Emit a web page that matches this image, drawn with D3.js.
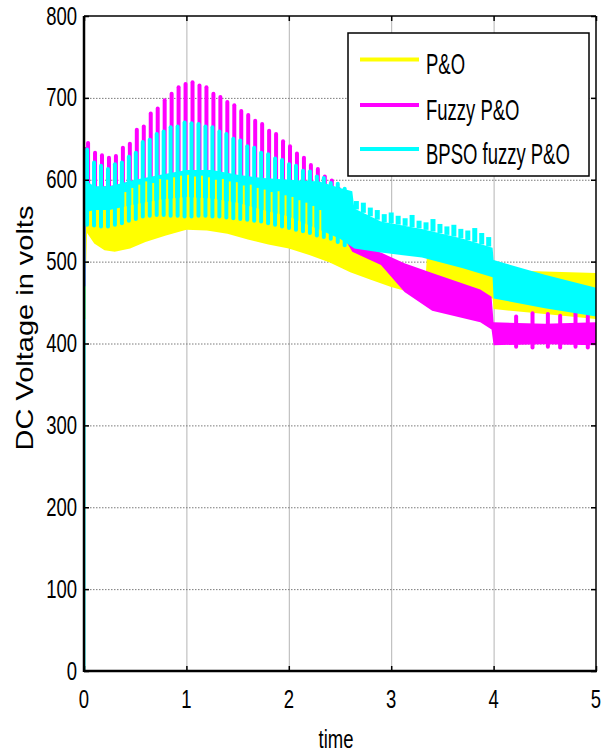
<!DOCTYPE html>
<html>
<head>
<meta charset="utf-8">
<script src="https://cdn.jsdelivr.net/npm/d3@7"></script>
<style>
  html, body { margin: 0; padding: 0; background: #fff; }
  svg { display: block; font-family: "Liberation Sans", Arial, sans-serif; }
</style>
</head>
<body>
<svg id="chart" width="610" height="753"></svg>
<script>
// ---------------- DATA ----------------
const xTicks = [0, 1, 2, 3, 4, 5];
const yTicks = [0, 100, 200, 300, 400, 500, 600, 700, 800];
const seriesNames = ["P&O", "Fuzzy P&O", "BPSO fuzzy P&O"];
const seriesColors = ["#ffff00", "#ff00ff", "#00ffff"];

// P&O (yellow): dense band, lower / upper envelope
const yellowT  = [0.005, 0.03, 0.1, 0.2, 0.3, 0.45, 0.6, 0.8, 1.0, 1.2, 1.4, 1.6, 1.8, 2.0, 2.2, 2.4, 2.6, 2.8, 3.0, 3.2, 3.34, 3.35, 3.6, 3.8, 3.99, 4.0, 4.5, 5.0];
const yellowLo = [430, 535, 522, 514, 512, 516, 524, 532, 539, 538, 534, 527, 521, 516, 508, 499, 487, 478, 469, 462, 458, 462, 460, 458, 455, 442, 436, 430];
const yellowHi = [560, 565, 566, 566, 568, 572, 577, 582, 585, 583, 578, 572, 566, 560, 548, 540, 525, 512, 500, 492, 488, 510, 500, 494, 490, 490, 488, 486];
// yellow oscillation peaks (between the cyan peaks)
const yellowSpikeT = [0.404, 0.472, 0.540, 0.608, 0.676, 0.744, 0.812, 0.880, 0.948, 1.016,
                      1.084, 1.152, 1.220, 1.288, 1.356, 1.424, 1.492, 1.560, 1.628, 1.696,
                      1.764, 1.832, 1.900, 1.968, 2.036, 2.104, 2.172, 2.240, 2.308];
const yellowSpikeTop = [585, 590, 594, 598, 596, 601, 600, 603, 605, 606, 604, 605, 603, 600, 601, 598, 597, 593, 594, 590,
                        588, 585, 586, 581, 579, 575, 572, 568, 563];

// Fuzzy P&O (magenta): dense band
const magentaT  = [0.005, 0.5, 1.0, 1.5, 2.0, 2.3, 2.55, 2.62, 2.9, 3.13, 3.4, 3.87, 3.98, 4.0, 4.5, 5.0];
const magentaLo = [563, 573, 582, 575, 558, 542, 527, 512, 496, 463, 440, 426, 417, 398, 399, 398];
const magentaHi = [590, 595, 605, 600, 595, 590, 580, 522, 511, 498, 486, 466, 457, 426, 424, 426];

// BPSO fuzzy P&O (cyan): dense band
const cyanT  = [0.005, 0.1, 0.25, 0.5, 0.75, 1.0, 1.25, 1.5, 1.75, 2.0, 2.3, 2.5, 2.62, 2.64, 2.9, 3.3, 3.7, 3.99, 4.0, 4.5, 5.0];
const cyanLo = [560, 563, 563, 570, 576, 579, 577, 572, 563, 555, 539, 528, 518, 516, 511, 505, 492, 481, 455, 443, 433];
const cyanHi = [600, 592, 592, 600, 606, 612, 612, 606, 602, 600, 598, 590, 586, 565, 549, 540, 528, 517, 502, 484, 468];

// periodic oscillation peaks (times of the peaks, shared by cyan and magenta)
const spikeT = [0.030, 0.098, 0.166, 0.234, 0.302, 0.370, 0.438, 0.506, 0.574, 0.642,
                0.710, 0.778, 0.846, 0.914, 0.982, 1.050, 1.118, 1.186, 1.254, 1.322,
                1.390, 1.458, 1.526, 1.594, 1.662, 1.730, 1.798, 1.866, 1.934, 2.002,
                2.070, 2.138, 2.206, 2.274, 2.342, 2.410, 2.478, 2.546];
const cyanSpikeTop = [637, 621, 617, 613, 619, 621, 628, 633, 646, 649, 656, 659, 664, 665, 670, 669, 668, 665, 664, 659,
                      656, 650, 648, 641, 639, 633, 631, 626, 624, 619, 617, 611, 610, 604, 602, 596, 595, 589];
const cyanSpikeLow = [545, 544, 543, 543, 545, 547, 550, 552, 555, 556, 557, 557, 556, 556, 555, 555, 556, 556, 555, 555,
                      554, 553, 552, 551, 550, 549, 547, 545, 543, 541, 539, 537, 535, 532, 530, 528, 524, 520];
const magentaSpikeTop = [645, 633, 630, 627, 629, 639, 644, 661, 665, 681, 687, 697, 705, 713, 717, 719, 715, 713, 705, 701,
                         695, 691, 684, 679, 672, 668, 660, 656, 647, 641, 632, 627, 618, 613, 604, 599, 589, 582];

// small ripple on top of the cyan band, 2.66 s - 4 s
const rippleT   = [2.660, 2.728, 2.796, 2.864, 2.932, 3.000, 3.068, 3.136, 3.204, 3.272,
                   3.340, 3.408, 3.476, 3.544, 3.612, 3.680, 3.748, 3.816, 3.884, 3.952];
const rippleTop = [574, 572, 566, 563, 558, 560, 556, 553, 557, 550, 548, 552, 546, 543, 545, 540, 538, 541, 535, 530];

// magenta bumps after 4 s
const bumpT   = [4.22, 4.38, 4.53, 4.65, 4.80, 4.92];
const bumpTop = [433, 437, 436, 434, 437, 434];
const bumpLow = [396, 395, 396, 395, 396, 395];

// start-up transients [t, v]
const yellowStart  = [[0.004, 430], [0.008, 560]];
const magentaStart = [[0.006, 470], [0.010, 640]];
const cyanStart    = [[0.002, 0], [0.004, 632], [0.010, 600]];

// ---------------- CHART ----------------
const svg = d3.select("#chart");
const L = 84, R = 596, T = 16, B = 671;
const x = d3.scaleLinear().domain([0, 5]).range([L, R]);
const y = d3.scaleLinear().domain([0, 800]).range([B, T]);
const FONT = 18.5;

svg.append("defs").append("clipPath").attr("id", "clip")
  .append("rect").attr("x", L).attr("y", T).attr("width", R - L).attr("height", B - T);

// grid
svg.append("g").attr("transform", `translate(0,${B})`)
  .call(d3.axisBottom(x).tickValues(xTicks.slice(1, -1)).tickSize(-(B - T)).tickFormat(""))
  .call(g => g.select(".domain").remove())
  .call(g => g.selectAll("line").attr("stroke", "#b4b4b4").attr("stroke-width", 1));
svg.append("g").attr("transform", `translate(${L},0)`)
  .call(d3.axisLeft(y).tickValues(yTicks.slice(1, -1)).tickSize(-(R - L)).tickFormat(""))
  .call(g => g.select(".domain").remove())
  .call(g => g.selectAll("line").attr("stroke", "#7a7a7a").attr("stroke-width", 1).attr("stroke-dasharray", "1.5,1.5"));

const plot = svg.append("g").attr("clip-path", "url(#clip)");
const rows = (ts, lo, hi) => ts.map((t, i) => ({ t, lo: lo[i], hi: hi[i] }));
const area = d3.area().x(d => x(d.t)).y0(d => y(d.lo)).y1(d => y(d.hi));
const line = d3.line().x(d => x(d[0])).y(d => y(d[1]));

// yellow
plot.append("path").datum(rows(yellowT, yellowLo, yellowHi)).attr("d", area).attr("fill", seriesColors[0]);
plot.append("path").datum(yellowStart).attr("d", line).attr("fill", "none").attr("stroke", seriesColors[0]).attr("stroke-width", 2.5);
const yellowHiAt = d3.scaleLinear().domain(yellowT).range(yellowHi);

// magenta
plot.append("path").datum(rows(magentaT, magentaLo, magentaHi)).attr("d", area).attr("fill", seriesColors[1]);
const magentaHiAt = d3.scaleLinear().domain(magentaT).range(magentaHi);
plot.append("g").selectAll("line").data(spikeT).join("line")
  .attr("x1", t => x(t) + 1).attr("x2", t => x(t) + 1)
  .attr("y1", t => y(magentaHiAt(t))).attr("y2", (t, i) => y(magentaSpikeTop[i]))
  .attr("stroke", seriesColors[1]).attr("stroke-width", 4).attr("stroke-linecap", "round");
plot.append("g").selectAll("line").data(bumpT).join("line")
  .attr("x1", t => x(t)).attr("x2", t => x(t))
  .attr("y1", (t, i) => y(bumpLow[i])).attr("y2", (t, i) => y(bumpTop[i]))
  .attr("stroke", seriesColors[1]).attr("stroke-width", 4).attr("stroke-linecap", "round");
plot.append("path").datum(magentaStart).attr("d", line).attr("fill", "none").attr("stroke", seriesColors[1]).attr("stroke-width", 2.5);

// cyan
plot.append("path").datum(rows(cyanT, cyanLo, cyanHi)).attr("d", area).attr("fill", seriesColors[2]);
// yellow peaks showing through the cyan band
plot.append("g").selectAll("line").data(yellowSpikeT).join("line")
  .attr("x1", t => x(t)).attr("x2", t => x(t))
  .attr("y1", t => y(yellowHiAt(t) - 30)).attr("y2", (t, i) => y(yellowSpikeTop[i]))
  .attr("stroke", seriesColors[0]).attr("stroke-width", 2);
plot.append("g").selectAll("line").data(spikeT).join("line")
  .attr("x1", t => x(t)).attr("x2", t => x(t))
  .attr("y1", (t, i) => y(cyanSpikeLow[i])).attr("y2", (t, i) => y(cyanSpikeTop[i]))
  .attr("stroke", seriesColors[2]).attr("stroke-width", 4).attr("stroke-linecap", "round");
const cyanHiAt = d3.scaleLinear().domain(cyanT).range(cyanHi);
plot.append("g").selectAll("line").data(rippleT).join("line")
  .attr("x1", t => x(t)).attr("x2", t => x(t))
  .attr("y1", t => y(cyanHiAt(t))).attr("y2", (t, i) => y(rippleTop[i]))
  .attr("stroke", seriesColors[2]).attr("stroke-width", 5);
plot.append("path").datum(cyanStart).attr("d", line).attr("fill", "none").attr("stroke", seriesColors[2]).attr("stroke-width", 2.5);

// axes (ticks inward on all four sides)
const tickStyle = g => { g.select(".domain").remove(); g.selectAll("line").attr("stroke", "#000").attr("stroke-width", 1.5); g.selectAll("text").remove(); };
svg.append("g").attr("transform", `translate(${L},0)`).call(d3.axisLeft(y).tickValues(yTicks).tickSize(-5)).call(tickStyle);
svg.append("g").attr("transform", `translate(${R},0)`).call(d3.axisRight(y).tickValues(yTicks).tickSize(-5)).call(tickStyle);
svg.append("g").attr("transform", `translate(0,${B})`).call(d3.axisBottom(x).tickValues(xTicks).tickSize(-5)).call(tickStyle);
svg.append("g").attr("transform", `translate(0,${T})`).call(d3.axisTop(x).tickValues(xTicks).tickSize(-5)).call(tickStyle);

// box
svg.append("line").attr("x1", L).attr("x2", R).attr("y1", T).attr("y2", T).attr("stroke", "#000").attr("stroke-width", 1.5);
svg.append("line").attr("x1", R).attr("x2", R).attr("y1", T).attr("y2", B).attr("stroke", "#000").attr("stroke-width", 1.5);
svg.append("line").attr("x1", L).attr("x2", R + 1).attr("y1", B).attr("y2", B).attr("stroke", "#000").attr("stroke-width", 2.5);
svg.append("line").attr("x1", L).attr("x2", L).attr("y1", T).attr("y2", B + 1).attr("stroke", "#000").attr("stroke-width", 2.5);

// tick labels
svg.append("g").selectAll("text").data(yTicks).join("text")
  .attr("transform", d => `translate(77,${y(d) + 8.5}) scale(1,1.35)`)
  .attr("text-anchor", "end").attr("font-size", FONT).attr("fill", "#000").text(d => d);
svg.append("g").selectAll("text").data(xTicks).join("text")
  .attr("transform", d => `translate(${x(d)},708) scale(1,1.35)`)
  .attr("text-anchor", "middle").attr("font-size", FONT).attr("fill", "#000").text(d => d);

// axis titles
svg.append("text").attr("transform", "translate(336,748) scale(1,1.35)")
  .attr("text-anchor", "middle").attr("font-size", FONT).text("time");
svg.append("text").attr("transform", "translate(33,328) rotate(-90) scale(1.26,1)")
  .attr("text-anchor", "middle").attr("font-size", 23).text("DC Voltage in volts");

// legend
const lg = svg.append("g");
lg.append("rect").attr("x", 348).attr("y", 33).attr("width", 241).attr("height", 143)
  .attr("fill", "#fff").attr("stroke", "#000").attr("stroke-width", 1.5);
const legY = [59.5, 105, 149];
seriesNames.forEach((name, i) => {
  lg.append("line").attr("x1", 360).attr("x2", 419).attr("y1", legY[i]).attr("y2", legY[i])
    .attr("stroke", seriesColors[i]).attr("stroke-width", 4);
  lg.append("text").attr("transform", `translate(426,${legY[i] + 14.5}) scale(1,1.55)`)
    .attr("font-size", FONT).attr("fill", "#000").text(name);
});
</script>
</body>
</html>
